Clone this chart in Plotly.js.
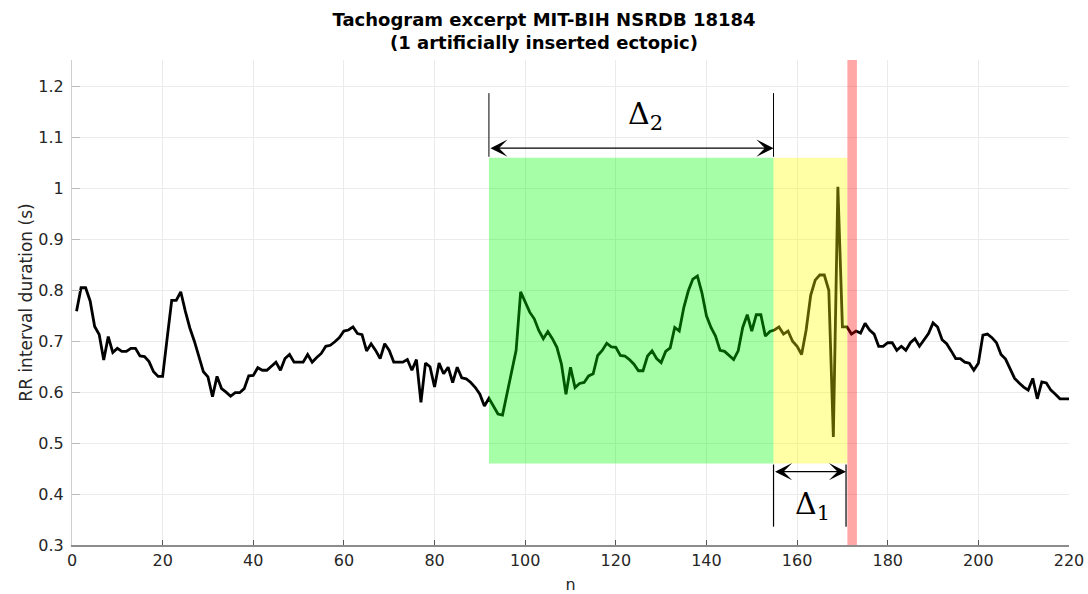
<!DOCTYPE html>
<html>
<head>
<meta charset="utf-8">
<script src="https://cdn.plot.ly/plotly-3.0.1.min.js"></script>
<style>html,body{margin:0;padding:0;background:#fff;}#chart{width:1088px;height:594px;}</style>
</head>
<body>
<div id="chart"></div>
<script>
// RR interval durations (s), beats n = 1..220
const rr = [
0.759,0.805,0.805,0.779,0.729,0.713,0.663,0.709,0.678,0.686,
0.680,0.680,0.686,0.686,0.671,0.670,0.660,0.640,0.631,0.631,
0.706,0.780,0.780,0.797,0.759,0.726,0.700,0.670,0.640,0.630,
0.591,0.631,0.607,0.600,0.592,0.599,0.599,0.607,0.632,0.633,
0.648,0.643,0.643,0.651,0.659,0.643,0.666,0.674,0.659,0.659,
0.659,0.674,0.659,0.668,0.676,0.690,0.692,0.699,0.707,0.720,
0.722,0.728,0.715,0.713,0.681,0.695,0.682,0.666,0.695,0.682,
0.659,0.659,0.659,0.664,0.643,0.664,0.580,0.657,0.650,0.610,
0.657,0.636,0.649,0.619,0.649,0.628,0.626,0.619,0.609,0.596,
0.573,0.588,0.573,0.557,0.555,0.596,0.636,0.682,0.797,0.777,
0.757,0.744,0.721,0.705,0.719,0.705,0.688,0.655,0.596,0.649,
0.609,0.617,0.619,0.632,0.636,0.672,0.682,0.696,0.689,0.688,
0.672,0.671,0.664,0.655,0.642,0.642,0.671,0.681,0.666,0.658,
0.680,0.687,0.727,0.720,0.766,0.799,0.822,0.828,0.795,0.750,
0.727,0.710,0.682,0.680,0.671,0.664,0.681,0.727,0.752,0.720,
0.752,0.752,0.710,0.719,0.722,0.728,0.714,0.720,0.700,0.690,
0.674,0.722,0.790,0.820,0.830,0.830,0.800,0.512,1.003,0.728,
0.728,0.714,0.720,0.716,0.735,0.722,0.714,0.690,0.690,0.697,
0.697,0.682,0.690,0.682,0.697,0.705,0.690,0.703,0.715,0.736,
0.728,0.703,0.695,0.681,0.666,0.666,0.659,0.657,0.643,0.657,
0.712,0.714,0.707,0.697,0.674,0.665,0.646,0.627,0.618,0.610,
0.604,0.627,0.587,0.620,0.618,0.604,0.596,0.587,0.587,0.587
];
const n = rr.map((_, i) => i + 1);

// Window boundaries (beat index) and ranges
const delta2Window = [92, 154.8];
const delta1Window = [154.8, 171.1];
const ectopicBand = [171.1, 173.2];
const windowY = [0.46, 1.06];
const xTicks = [0, 20, 40, 60, 80, 100, 120, 140, 160, 180, 200, 220];
const yTicks = [0.3, 0.4, 0.5, 0.6, 0.7, 0.8, 0.9, 1, 1.1, 1.2];

const trace = {
  x: n, y: rr, type: 'scatter', mode: 'lines',
  line: {color: '#000', width: 2.8}, hoverinfo: 'x+y'
};

const layout = {
  width: 1088, height: 594,
  margin: {l: 72, r: 19, t: 60, b: 49},
  paper_bgcolor: '#fff', plot_bgcolor: '#fff',
  showlegend: false,
  font: {family: 'DejaVu Sans', size: 16, color: '#262626'},
  title: {
    text: 'Tachogram excerpt MIT-BIH NSRDB 18184<br>(1 artificially inserted ectopic)',
    font: {family: 'DejaVu Sans', size: 18, color: '#000', weight: 'bold'},
    x: 0.5, xanchor: 'center', y: 0.957, yref: 'container', yanchor: 'top'
  },
  xaxis: {
    range: [0, 220], tickvals: xTicks, ticktext: xTicks.map(String),
    showgrid: true, gridcolor: '#ebebeb', gridwidth: 1, zeroline: false,
    showline: true, linecolor: '#8c8c8c', linewidth: 2,
    ticks: 'inside', ticklen: 5, tickcolor: '#555', tickwidth: 1,
    tickfont: {family: 'DejaVu Sans', size: 16, color: '#262626'},
    title: {text: 'n', font: {family: 'DejaVu Sans', size: 16, color: '#262626'}, standoff: 11}
  },
  yaxis: {
    range: [0.3, 1.252], tickvals: yTicks, ticktext: yTicks.map(String),
    showgrid: true, gridcolor: '#ebebeb', gridwidth: 1, zeroline: false,
    showline: true, linecolor: '#cfcfcf', linewidth: 1,
    ticks: 'inside', ticklen: 8, tickcolor: '#bbb', tickwidth: 1,
    ticklabelstandoff: 4,
    tickfont: {family: 'DejaVu Sans', size: 16, color: '#262626'},
    title: {text: 'RR interval duration (s)', font: {family: 'DejaVu Sans', size: 17, color: '#262626'}, standoff: 1}
  },
  shapes: [
    {type: 'rect', xref: 'x', yref: 'y', x0: delta2Window[0], x1: delta2Window[1], y0: windowY[0], y1: windowY[1],
     fillcolor: 'rgba(0,255,0,0.35)', line: {width: 0}, layer: 'above'},
    {type: 'rect', xref: 'x', yref: 'y', x0: delta1Window[0], x1: delta1Window[1], y0: windowY[0], y1: windowY[1],
     fillcolor: 'rgba(255,255,0,0.35)', line: {width: 0}, layer: 'above'},
    {type: 'rect', xref: 'x', yref: 'paper', x0: ectopicBand[0], x1: ectopicBand[1], y0: 0, y1: 1,
     fillcolor: 'rgba(255,0,0,0.35)', line: {width: 0}, layer: 'above'},
    // Delta2 bracket verticals
    {type: 'line', xref: 'x', yref: 'y', x0: delta2Window[0], x1: delta2Window[0], y0: 1.187, y1: 1.062, line: {color: '#000', width: 1}},
    {type: 'line', xref: 'x', yref: 'y', x0: delta2Window[1], x1: delta2Window[1], y0: 1.187, y1: 1.062, line: {color: '#000', width: 1}},
    // Delta1 bracket verticals
    {type: 'line', xref: 'x', yref: 'y', x0: delta1Window[0], x1: delta1Window[0], y0: 0.458, y1: 0.336, line: {color: '#000', width: 1.2}},
    {type: 'line', xref: 'x', yref: 'y', x0: delta1Window[1] - 0.3, x1: delta1Window[1] - 0.3, y0: 0.458, y1: 0.336, line: {color: '#000', width: 1.2}}
  ],
  annotations: [
    {xref: 'x', yref: 'y', axref: 'x', ayref: 'y', x: delta2Window[1], y: 1.079, ax: delta2Window[0], ay: 1.079,
     text: '', showarrow: true, arrowside: 'end+start', arrowhead: 3, startarrowhead: 3,
     arrowsize: 2.2, startarrowsize: 2.2, arrowwidth: 1.3, arrowcolor: '#000'},
    {xref: 'x', yref: 'y', axref: 'x', ayref: 'y', x: delta1Window[1] - 0.3, y: 0.444, ax: delta1Window[0], ay: 0.444,
     text: '', showarrow: true, arrowside: 'end+start', arrowhead: 3, startarrowhead: 3,
     arrowsize: 2.2, startarrowsize: 2.2, arrowwidth: 1.3, arrowcolor: '#000'},
    {xref: 'x', yref: 'y', x: 126.5, y: 1.144, text: 'Δ<sub>2</sub>', showarrow: false,
     font: {family: 'DejaVu Serif', size: 30, color: '#000'}},
    {xref: 'x', yref: 'y', x: 163.4, y: 0.378, text: 'Δ<sub>1</sub>', showarrow: false,
     font: {family: 'DejaVu Serif', size: 30, color: '#000'}}
  ]
};

Plotly.newPlot('chart', [trace], layout, {displayModeBar: false, staticPlot: true});
</script>
</body>
</html>
